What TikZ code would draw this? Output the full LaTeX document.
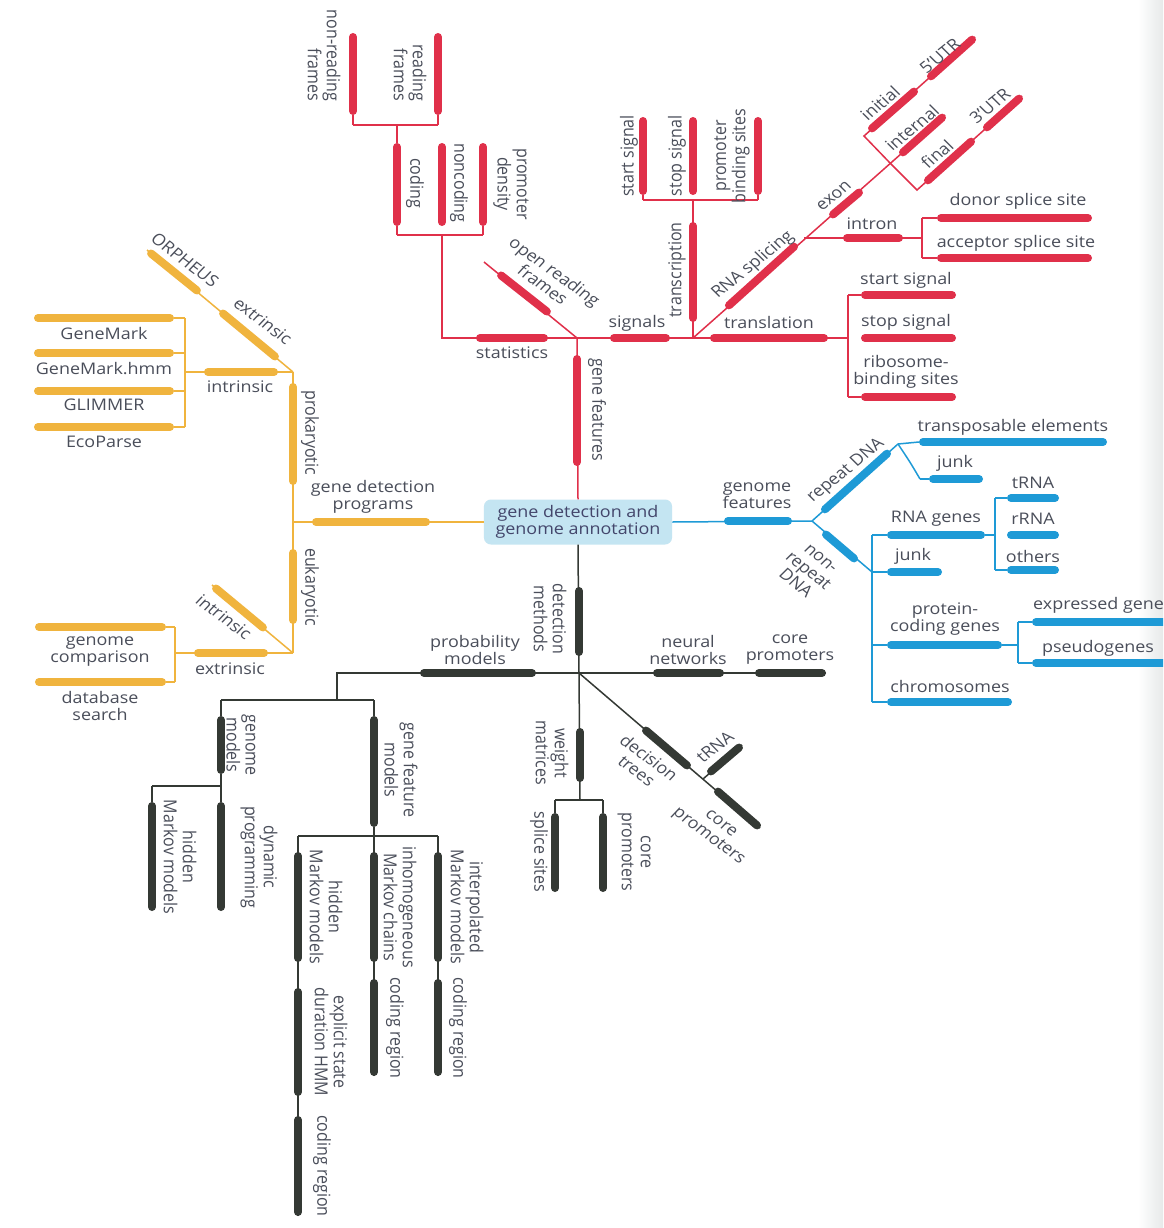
\documentclass[tikz,border=0pt]{standalone}
\usepackage{fontspec}
\setmainfont{Open Sans}
\usetikzlibrary{calc}
\definecolor{cRed}{HTML}{E0304A}
\definecolor{cOra}{HTML}{F0B43E}
\definecolor{cBlu}{HTML}{1E9AD6}
\definecolor{cDrk}{HTML}{343934}
\definecolor{ink}{HTML}{4A4E5A}
\definecolor{boxfill}{HTML}{C4E5F2}
\newcommand\labfont{\fontsize{16}{17}\selectfont}
% a thick rounded bar with named end points
\newcommand\mkbar[4]{\coordinate (#2-s) at #3; \coordinate (#2-e) at #4; \draw[thickbar,#1] (#2-s) -- (#2-e);}

\begin{document}
\begin{tikzpicture}[x=1pt,y=-1pt,
  link/.style={line width=1.5pt},
  thickbar/.style={line width=8pt,line cap=round,shorten <=4pt,shorten >=4pt},
  lab/.style={font=\labfont,text=ink,align=center,inner sep=0pt,xscale=1.12}]
\useasboundingbox (0,0) rectangle (1163,1228);
\clip (0,0) rectangle (1163,1228);
\fill[white] (0,0) rectangle (1163,1228);
\shade[left color=white,right color=cyan!6!gray!18] (1138,0) rectangle (1163,1228);

% central topic
\node[lab,fill=boxfill,rounded corners=7pt,minimum width=168pt,minimum height=45pt,text=ink!90!blue] (box) at (578,522) {gene detection and\\genome annotation};

%% ---------------- gene features (red) ----------------
\coordinate (hubR) at (577,338);
\coordinate (hubR2) at (693,338);
\draw[link,cRed] (box.north) -- (hubR);
\mkbar{cRed}{gf}{(577,466)}{(577,355)}
\node[lab,rotate=-90] (gf-l) at (597,410) {gene features};

% statistics
\coordinate (stK) at (442,338); \coordinate (stJ) at (442,235);
\coordinate (cdJ) at (397,235); \coordinate (pdJ) at (483,235);
\draw[link,cRed] (hubR) -- (stK) -- (stJ);
\draw[link,cRed] (cdJ) -- (pdJ);
\mkbar{cRed}{stat}{(548,338)}{(476,338)}
\node[lab] (stat-l) at (512,353) {statistics};
\mkbar{cRed}{cod}{(397,226)}{(397,143)}
\mkbar{cRed}{ncod}{(442,226)}{(442,143)}
\mkbar{cRed}{pden}{(483,226)}{(483,143)}
\draw[link,cRed] (cdJ) -- (cod-s) (pdJ) -- (pden-s);
\node[lab,rotate=-90] (cod-l) at (415,183) {coding};
\node[lab,rotate=-90] (ncod-l) at (459,183) {noncoding};
\node[lab,rotate=-90] (pden-l) at (511,184) {promoter\\density};
\coordinate (rfK) at (397,125); \coordinate (nrJ) at (353,125); \coordinate (rfJ) at (438,125);
\draw[link,cRed] (cod-e) -- (rfK);
\draw[link,cRed] (nrJ) -- (rfJ);
\mkbar{cRed}{nrf}{(353,115)}{(353,33)}
\mkbar{cRed}{rf}{(438,115)}{(438,33)}
\draw[link,cRed] (nrJ) -- (nrf-s) (rfJ) -- (rf-s);
\node[lab,rotate=-90,align=right,anchor=east] (nrf-l) at (324,101) {non-reading\\frames};
\node[lab,rotate=-90,align=right,anchor=east] (rf-l) at (410,101) {reading\\frames};

% open reading frames
\coordinate (orfE) at (484,262);
\draw[link,cRed] (hubR) -- (orfE);
\mkbar{cRed}{orf}{(550,314)}{(498,273)}
\node[lab,rotate=-39] (orf-l) at (549,278) {open reading\\frames};

% signals
\draw[link,cRed] (hubR) -- (hubR2);
\mkbar{cRed}{sig}{(610,338)}{(670,338)}
\node[lab] (sig-l) at (637,323) {signals};

% transcription
\coordinate (tcJ) at (693,200); \coordinate (ssJ2) at (643,200); \coordinate (pbJ) at (758,200);
\draw[link,cRed] (hubR2) -- (tcJ);
\draw[link,cRed] (ssJ2) -- (pbJ);
\mkbar{cRed}{tc}{(693,322)}{(693,222)}
\node[lab,rotate=90] (tc-l) at (677,270) {transcription};
\mkbar{cRed}{sts}{(643,195)}{(643,117)}
\mkbar{cRed}{sps}{(693,195)}{(693,117)}
\mkbar{cRed}{pbs}{(758,195)}{(758,117)}
\draw[link,cRed] (ssJ2) -- (sts-s) (pbJ) -- (pbs-s);
\node[lab,rotate=90] (sts-l) at (629,156) {start signal};
\node[lab,rotate=90] (sps-l) at (677,156) {stop signal};
\node[lab,rotate=90] (pbs-l) at (732,156) {promoter\\binding sites};

% translation
\coordinate (tlJ) at (848,338); \coordinate (tlA) at (848,295); \coordinate (tlC) at (848,397);
\draw[link,cRed] (hubR2) -- (tlJ);
\draw[link,cRed] (tlA) -- (tlC);
\mkbar{cRed}{tl}{(710,338)}{(828,338)}
\node[lab] (tl-l) at (769,322) {translation};
\mkbar{cRed}{tsa}{(861,295)}{(956,295)}
\mkbar{cRed}{tso}{(861,338)}{(956,338)}
\mkbar{cRed}{rbs}{(861,397)}{(956,397)}
\draw[link,cRed] (tlA) -- (tsa-s) (tlC) -- (rbs-s);
\node[lab] (tsa-l) at (906,280) {start signal};
\node[lab] (tso-l) at (906,322) {stop signal};
\node[lab] (rbs-l) at (906,372) {ribosome-\\binding sites};

% RNA splicing
\coordinate (spI) at (804,238); \coordinate (exJ) at (890,163); \coordinate (inE) at (945,115);
\draw[link,cRed] (hubR2) -- (inE);
\mkbar{cRed}{rs}{(726,308)}{(797,244)}
\node[lab,rotate=42] (rs-l) at (753,265) {RNA splicing};
% intron
\coordinate (inJ) at (922,238); \coordinate (inA) at (922,218); \coordinate (inB) at (922,258);
\draw[link,cRed] (spI) -- (inJ);
\draw[link,cRed] (inA) -- (inB);
\mkbar{cRed}{intr}{(843,238)}{(903,238)}
\node[lab] (intr-l) at (872,224) {intron};
\mkbar{cRed}{don}{(937,218)}{(1092,218)}
\mkbar{cRed}{acc}{(937,258)}{(1092,258)}
\draw[link,cRed] (inA) -- (don-s) (inB) -- (acc-s);
\node[lab] (don-l) at (1018,201) {donor splice site};
\node[lab] (acc-l) at (1016,243) {acceptor splice site};
% exon
\mkbar{cRed}{exn}{(830,217)}{(862,190)}
\node[lab,rotate=42] (exn-l) at (834,196) {exon};
\mkbar{cRed}{int}{(900,155)}{(945,115)}
\node[lab,rotate=42] (int-l) at (912,128) {internal};
\coordinate (ciC) at (864,136); \coordinate (u5E) at (975,37);
\coordinate (cfC) at (917,190); \coordinate (u3E) at (1022,96);
\draw[link,cRed] (exJ) -- (ciC) -- (u5E);
\draw[link,cRed] (exJ) -- (cfC) -- (u3E);
\mkbar{cRed}{ini}{(869,131)}{(917,89)}
\mkbar{cRed}{u5}{(928,79)}{(975,37)}
\mkbar{cRed}{fin}{(925,183)}{(974,139)}
\mkbar{cRed}{u3}{(984,130)}{(1022,96)}
\node[lab,rotate=42] (ini-l) at (880,103) {initial};
\node[lab,rotate=42] (u5-l) at (940,56) {5'UTR};
\node[lab,rotate=42] (fin-l) at (937,154) {final};
\node[lab,rotate=42] (u3-l) at (990,106) {3'UTR};

%% ---------------- gene detection programs (orange) ----------------
\coordinate (hubO) at (293,522);
\coordinate (prT) at (293,372); \coordinate (euB) at (293,653);
\draw[link,cOra] (box.west) -- (hubO);
\draw[link,cOra] (prT) -- (euB);
\mkbar{cOra}{gdp}{(430,522)}{(312,522)}
\node[lab] (gdp-l) at (373,497) {gene detection\\programs};
\mkbar{cOra}{prok}{(293,485)}{(293,383)}
\node[lab,rotate=-90] (prok-l) at (310,433) {prokaryotic};
\mkbar{cOra}{euk}{(293,549)}{(293,624)}
\node[lab,rotate=-90] (euk-l) at (310,587) {eukaryotic};

% prokaryotic: intrinsic
\coordinate (piV) at (185,372);
\coordinate (piA) at (185,318); \coordinate (piB) at (185,353);
\coordinate (piC) at (185,391); \coordinate (piD) at (185,427);
\draw[link,cOra] (prT) -- (piV);
\draw[link,cOra] (piA) -- (piD);
\mkbar{cOra}{pin}{(278,372)}{(204,372)}
\node[lab] (pin-l) at (240,387) {intrinsic};
\mkbar{cOra}{gm1}{(174,318)}{(34,318)}
\mkbar{cOra}{gm2}{(174,353)}{(34,353)}
\mkbar{cOra}{gl}{(174,391)}{(34,391)}
\mkbar{cOra}{ep}{(174,427)}{(34,427)}
\draw[link,cOra] (piA) -- (gm1-s) (piB) -- (gm2-s) (piC) -- (gl-s) (piD) -- (ep-s);
\node[lab] (gm1-l) at (104,333) {GeneMark};
\node[lab] (gm2-l) at (104,369) {GeneMark.hmm};
\node[lab] (gl-l) at (104,405) {GLIMMER};
\node[lab] (ep-l) at (104,442) {EcoParse};

% prokaryotic: extrinsic
\coordinate (orpE) at (147,250);
\draw[link,cOra] (prT) -- (orpE);
\mkbar{cOra}{pex}{(278,359)}{(220,311)}
\mkbar{cOra}{orp}{(200,293)}{(148,251)}
\node[lab,rotate=-40] (pex-l) at (263,321) {extrinsic};
\node[lab,rotate=-40] (orp-l) at (185,260) {ORPHEUS};

% eukaryotic: extrinsic
\coordinate (eeV) at (175,653); \coordinate (eeA) at (175,627); \coordinate (eeB) at (175,682);
\draw[link,cOra] (euB) -- (eeV);
\draw[link,cOra] (eeA) -- (eeB);
\mkbar{cOra}{eex}{(268,653)}{(194,653)}
\node[lab] (eex-l) at (230,669) {extrinsic};
\mkbar{cOra}{gc}{(166,627)}{(35,627)}
\mkbar{cOra}{db}{(166,682)}{(35,682)}
\draw[link,cOra] (eeA) -- (gc-s) (eeB) -- (db-s);
\node[lab] (gc-l) at (100,652) {genome\\comparison};
\node[lab] (db-l) at (100,706) {database\\search};

% eukaryotic: intrinsic
\coordinate (eiE) at (212,585);
\draw[link,cOra] (euB) -- (eiE);
\mkbar{cOra}{ein}{(266,630)}{(213,586)}
\node[lab,rotate=-40] (ein-l) at (224,617) {intrinsic};

%% ---------------- genome features (blue) ----------------
\coordinate (hubB) at (812,521);
\draw[link,cBlu] (box.east) -- (hubB);
\mkbar{cBlu}{gfe}{(724,521)}{(792,521)}
\node[lab] (gfe-l) at (757,496) {genome\\features};

% repeat DNA
\coordinate (rJ) at (898,444); \coordinate (jkC) at (920,479);
\draw[link,cBlu] (hubB) -- (rJ);
\mkbar{cBlu}{rep}{(822,512)}{(890,451)}
\node[lab,rotate=42] (rep-l) at (846,471) {repeat DNA};
\mkbar{cBlu}{te}{(919,442)}{(1107,442)}
\draw[link,cBlu] (rJ) -- (te-s);
\node[lab] (te-l) at (1013,427) {transposable elements};
\draw[link,cBlu] (rJ) .. controls (910,462) .. (jkC);
\mkbar{cBlu}{jk}{(929,479)}{(983,479)}
\draw[link,cBlu] (jkC) -- (jk-s);
\node[lab] (jk-l) at (955,463) {junk};

% non-repeat DNA
\coordinate (nJ) at (872,572);
\coordinate (nvA) at (872,535); \coordinate (nvC) at (872,645); \coordinate (nvD) at (872,702);
\draw[link,cBlu] (hubB) -- (nJ);
\draw[link,cBlu] (nvA) -- (nvD);
\mkbar{cBlu}{nrp}{(823,532)}{(857,561)}
\node[lab,rotate=-42] (nrp-l) at (808,571) {non-\\repeat\\DNA};
\mkbar{cBlu}{rna}{(887,535)}{(985,535)}
\mkbar{cBlu}{jk2}{(887,572)}{(942,572)}
\mkbar{cBlu}{prot}{(887,645)}{(1002,645)}
\mkbar{cBlu}{chr}{(887,702)}{(1012,702)}
\draw[link,cBlu] (nvA) -- (rna-s) (nJ) -- (jk2-s) (nvC) -- (prot-s) (nvD) -- (chr-s);
\node[lab] (rna-l) at (936,519) {RNA genes};
\node[lab] (jk2-l) at (913,556) {junk};
\node[lab] (prot-l) at (945,619) {protein-\\coding genes};
\node[lab] (chr-l) at (950,686) {chromosomes};
% RNA genes
\coordinate (rsA) at (995,498); \coordinate (rsB) at (995,535); \coordinate (rsC) at (995,570);
\draw[link,cBlu] (rna-e) -- (rsB);
\draw[link,cBlu] (rsA) -- (rsC);
\mkbar{cBlu}{trn}{(1007,498)}{(1059,498)}
\mkbar{cBlu}{rrn}{(1007,535)}{(1059,535)}
\mkbar{cBlu}{oth}{(1007,570)}{(1059,570)}
\draw[link,cBlu] (rsA) -- (trn-s) (rsC) -- (oth-s);
\node[lab] (trn-l) at (1033,483) {tRNA};
\node[lab] (rrn-l) at (1033,519) {rRNA};
\node[lab] (oth-l) at (1033,556) {others};
% protein-coding genes
\coordinate (psA) at (1018,622); \coordinate (psB) at (1018,645); \coordinate (psC) at (1018,663);
\draw[link,cBlu] (prot-e) -- (psB);
\draw[link,cBlu] (psA) -- (psC);
\mkbar{cBlu}{exg}{(1032,622)}{(1180,622)}
\mkbar{cBlu}{psg}{(1032,663)}{(1180,663)}
\draw[link,cBlu] (psA) -- (exg-s) (psC) -- (psg-s);
\node[lab,anchor=west] (exg-l) at (1033,605) {expressed genes};
\node[lab] (psg-l) at (1098,648) {pseudogenes};

%% ---------------- detection methods (dark) ----------------
\coordinate (hubD) at (579,673);
\draw[link,cDrk] (box.south) -- (hubD);
\mkbar{cDrk}{dm}{(579,587)}{(579,656)}
\node[lab,rotate=-90] (dm-l) at (550,619) {detection\\methods};

% probability models
\coordinate (pmK) at (337,673); \coordinate (pmJ) at (337,700);
\coordinate (gmJ) at (221,700); \coordinate (gfJ) at (374,700);
\draw[link,cDrk] (hubD) -- (pmK) -- (pmJ);
\draw[link,cDrk] (gmJ) -- (gfJ);
\mkbar{cDrk}{pm}{(536,673)}{(420,673)}
\node[lab] (pm-l) at (475,650) {probability\\models};
\mkbar{cDrk}{gm}{(221,716)}{(221,774)}
\mkbar{cDrk}{gfm}{(374,716)}{(374,827)}
\draw[link,cDrk] (gmJ) -- (gm-s) (gfJ) -- (gfm-s);
\node[lab,rotate=-90] (gm-l) at (241,745) {genome\\models};
\node[lab,rotate=-90] (gfm-l) at (401,770) {gene feature\\models};
% genome models
\coordinate (gmK) at (221,786); \coordinate (hmJ) at (152,786);
\draw[link,cDrk] (gm-e) -- (gmK) -- (hmJ);
\mkbar{cDrk}{hm1}{(152,802)}{(152,911)}
\mkbar{cDrk}{dp}{(221,802)}{(221,911)}
\draw[link,cDrk] (hmJ) -- (hm1-s) (gmK) -- (dp-s);
\node[lab,rotate=-90] (hm1-l) at (180,857) {hidden\\Markov models};
\node[lab,rotate=-90] (dp-l) at (259,857) {dynamic\\programming};
% gene feature models
\coordinate (gfK) at (374,836); \coordinate (h2J) at (298,836); \coordinate (ipJ) at (438,836);
\draw[link,cDrk] (gfm-e) -- (gfK);
\draw[link,cDrk] (h2J) -- (ipJ);
\mkbar{cDrk}{hm2}{(298,852)}{(298,962)}
\mkbar{cDrk}{ihm}{(374,852)}{(374,962)}
\mkbar{cDrk}{ipm}{(438,852)}{(438,962)}
\mkbar{cDrk}{es}{(298,988)}{(298,1096)}
\mkbar{cDrk}{cr1}{(298,1116)}{(298,1216)}
\mkbar{cDrk}{cr2}{(374,979)}{(374,1076)}
\mkbar{cDrk}{cr3}{(438,979)}{(438,1076)}
\draw[link,cDrk] (h2J) -- (cr1-e) (gfK) -- (cr2-e) (ipJ) -- (cr3-e);
\node[lab,rotate=-90] (hm2-l) at (326,907) {hidden\\Markov models};
\node[lab,rotate=-90] (ihm-l) at (400,907) {inhomogeneous\\Markov chains};
\node[lab,rotate=-90] (ipm-l) at (467,907) {interpolated\\Markov models};
\node[lab,rotate=-90] (es-l) at (331,1042) {explicit state\\duration HMM};
\node[lab,rotate=-90] (cr1-l) at (322,1166) {coding region};
\node[lab,rotate=-90] (cr2-l) at (395,1028) {coding region};
\node[lab,rotate=-90] (cr3-l) at (458,1028) {coding region};

% neural networks
\coordinate (npE) at (826,673);
\draw[link,cDrk] (hubD) -- (npE);
\mkbar{cDrk}{nn}{(653,673)}{(724,673)}
\mkbar{cDrk}{cp}{(755,673)}{(826,673)}
\node[lab] (nn-l) at (688,650) {neural\\networks};
\node[lab] (cp-l) at (790,650) {core\\promoters};

% weight matrices
\coordinate (wmJ) at (580,800); \coordinate (ssJ) at (555,800); \coordinate (cpJ) at (603,800);
\draw[link,cDrk] (hubD) -- (wmJ);
\draw[link,cDrk] (ssJ) -- (cpJ);
\mkbar{cDrk}{wm}{(580,728)}{(580,782)}
\node[lab,rotate=-90] (wm-l) at (552,753) {weight\\matrices};
\mkbar{cDrk}{ss}{(555,813)}{(555,892)}
\mkbar{cDrk}{cp2}{(603,813)}{(603,892)}
\draw[link,cDrk] (ssJ) -- (ss-s) (cpJ) -- (cp2-s);
\node[lab,rotate=-90] (ss-l) at (539,852) {splice sites};
\node[lab,rotate=-90] (cp2-l) at (634,852) {core\\promoters};

% decision trees
\coordinate (dtE) at (760,828); \coordinate (dtJ) at (703,779); \coordinate (trE) at (742,745);
\draw[link,cDrk] (hubD) -- (dtE);
\draw[link,cDrk] (dtJ) -- (trE);
\mkbar{cDrk}{dt}{(643,728)}{(690,768)}
\mkbar{cDrk}{tr}{(708,774)}{(742,745)}
\mkbar{cDrk}{cpd}{(715,789)}{(760,828)}
\node[lab,rotate=-40] (dt-l) at (643,764) {decision\\trees};
\node[lab,rotate=41] (tr-l) at (715,747) {tRNA};
\node[lab,rotate=-40] (cpd-l) at (714,831) {core\\promoters};
\end{tikzpicture}
\end{document}
